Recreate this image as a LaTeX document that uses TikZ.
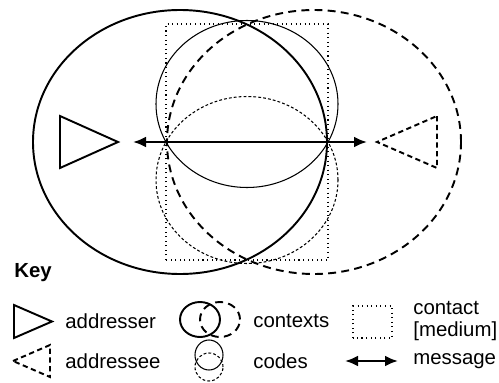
\documentclass[tikz,border=0pt]{standalone}
\usepackage{fontspec}
\setmainfont{Liberation Sans}
\usetikzlibrary{arrows.meta}

\begin{document}
\begin{tikzpicture}[
	bigline/.style={line width=1.1pt},
	thinline/.style={line width=0.6pt},
	longdash/.style={dash pattern=on 4.5pt off 3pt},
	shortdash/.style={dash pattern=on 1.6pt off 1.2pt},
	msgarrow/.style={{Latex[length=2.6mm,width=2.2mm]}-{Latex[length=2.6mm,width=2.2mm]}, line width=1.5pt},
	lbl/.style={anchor=west, inner sep=0pt, font=\fontsize{11.6}{12.5}\selectfont, align=left}
]
\useasboundingbox (0,0) rectangle (9.98,7.64);

% contexts
\draw [bigline] (3.6,4.8) ellipse [x radius=2.94, y radius=2.64];
\draw [bigline,longdash] (6.28,4.8) ellipse [x radius=2.94, y radius=2.64];

% codes
\draw [thinline] (4.94,5.56) ellipse [x radius=1.82, y radius=1.67];
\draw [thinline,shortdash] (4.94,4.04) ellipse [x radius=1.82, y radius=1.67];

% contact
\draw [thinline,dotted] (3.32,2.44) rectangle (6.56,7.16);

% addresser / addressee
\draw [bigline] (1.2,5.32) -- (1.2,4.28) -- (2.36,4.8) -- cycle;
\draw [bigline,dash pattern=on 3pt off 2pt] (8.74,5.32) -- (8.74,4.28) -- (7.54,4.8) -- cycle;

% message
\coordinate (msgl) at (2.66,4.8);
\coordinate (msgr) at (7.34,4.8);
\draw [msgarrow] (msgl) -- (msgr);

% key
\node [lbl, font=\fontsize{11.6}{12.5}\selectfont\bfseries] (keyhead) at (0.28,2.18) {Key};

\draw [bigline] (0.28,1.54) -- (0.28,0.88) -- (1.04,1.21) -- cycle;
\node [lbl] (addresser) at (1.3,1.21) {addresser};

\draw [bigline,dash pattern=on 3pt off 2pt] (0.26,0.42) -- (1.0,0.74) -- (1.0,0.10) -- cycle;
\node [lbl] (addressee) at (1.3,0.42) {addressee};

\draw [bigline] (4.0,1.25) ellipse [x radius=0.40, y radius=0.35];
\draw [bigline,longdash] (4.4,1.25) ellipse [x radius=0.40, y radius=0.35];
\node [lbl] (contexts) at (5.06,1.21) {contexts};

\draw [thinline] (4.18,0.54) ellipse [x radius=0.28, y radius=0.30];
\draw [thinline,shortdash] (4.18,0.30) ellipse [x radius=0.28, y radius=0.28];
\node [lbl] (codes) at (5.06,0.42) {codes};

\draw [thinline,dotted] (7.06,0.88) rectangle (7.84,1.52);
\node [lbl] (contact) at (8.26,1.22) {contact\\{}[medium]};

\coordinate (keyl) at (6.9,0.42);
\coordinate (keyr) at (7.96,0.42);
\draw [msgarrow] (keyl) -- (keyr);
\node [lbl] (message) at (8.26,0.42) {message};

\end{tikzpicture}
\end{document}
